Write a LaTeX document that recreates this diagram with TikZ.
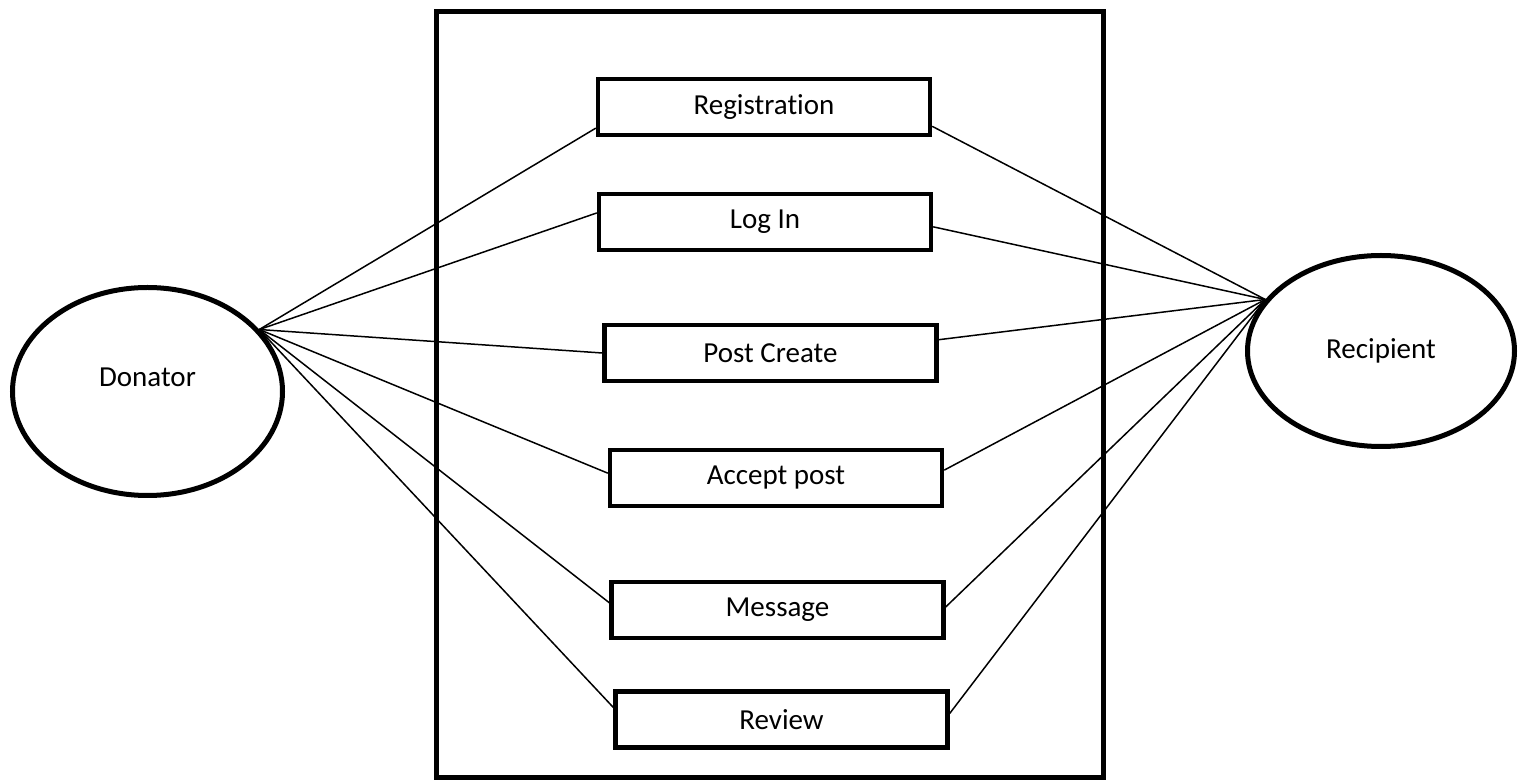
\documentclass[tikz,border=0pt]{standalone}
\usepackage{fontspec}
\setmainfont{Carlito}[Ligatures={NoCommon}]
\usetikzlibrary{shapes.geometric,positioning,calc}
\tikzset{
    usecase/.style={
        rectangle, draw=black, line width=2.2pt,
        minimum width=166pt, minimum height=28pt,
        inner sep=0pt, text centered,
        font=\fontsize{14.5}{17}\selectfont
    },
    actor/.style={
        ellipse, draw=black, line width=2.5pt,
        inner sep=0pt,
        font=\fontsize{14.5}{17}\selectfont
    },
    system/.style={
        draw=black, line width=2.5pt
    },
    link/.style={
        line width=0.75pt
    }
}

\begin{document}
\begin{tikzpicture}[x=0.5pt,y=-0.5pt]
    \useasboundingbox (0,0) rectangle (1527,780);
    % system boundary
    \draw[system] (436,11.5) rectangle (1103,777.5);

    % actors
    \node[actor, minimum width=135pt, minimum height=104pt,
        label={[yshift=7pt,font=\fontsize{14.5}{17}\selectfont]center:Donator}]
        (donator) at (147.5,391.5) {};
    \node[actor, minimum width=133.5pt, minimum height=95.5pt]
        (recipient) at (1381,351) {Recipient};

    % use cases
    \node[usecase] (reg)     at (764,107)   {Registration};
    \node[usecase] (login)   at (765,222)   {Log In};
    \node[usecase] (create)  at (770.5,353) {Post Create};
    \node[usecase] (accept)  at (776,478)   {Accept post};
    \node[usecase] (message) at (777.5,610) {Message};
    \node[usecase] (review)  at (781.5,719.5) {Review};

    % donator side
    \draw[link] (donator.29) -- ($(reg.south west)!0.15!(reg.north west)$);
    \draw[link] (donator.29) -- ($(login.south west)!0.65!(login.north west)$);
    \draw[link] (donator.29) -- ($(create.south west)!0.5!(create.north west)$);
    \draw[link] (donator.29) -- ($(accept.south west)!0.58!(accept.north west)$);
    \draw[link] (donator.29) -- ($(message.south west)!0.62!(message.north west)$);
    \draw[link] (donator.29) -- ($(review.south west)!0.7!(review.north west)$);

    % recipient side
    \draw[link] (recipient.156) -- ($(reg.south east)!0.18!(reg.north east)$);
    \draw[link] (recipient.156) -- ($(login.south east)!0.42!(login.north east)$);
    \draw[link] (recipient.156) -- ($(create.south east)!0.72!(create.north east)$);
    \draw[link] (recipient.156) -- ($(accept.south east)!0.63!(accept.north east)$);
    \draw[link] (recipient.156) -- ($(message.south east)!0.55!(message.north east)$);
    \draw[link] (recipient.156) -- ($(review.south east)!0.6!(review.north east)$);
\end{tikzpicture}
\end{document}
